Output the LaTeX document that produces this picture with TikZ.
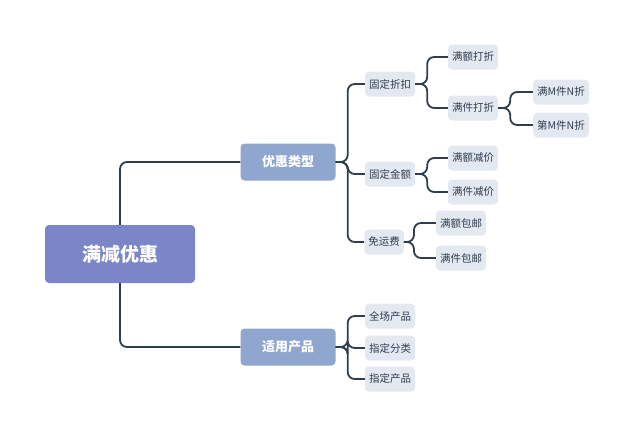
\documentclass[tikz,border=0pt]{standalone}
\usepackage{fontspec}
\setmainfont{Noto Sans CJK SC}
\usetikzlibrary{positioning}
\definecolor{rootc}{HTML}{7B86C8}
\definecolor{mainc}{HTML}{8FA6CF}
\definecolor{subc}{HTML}{E4E9F1}
\definecolor{linec}{HTML}{2F3D4F}
\tikzset{
  rootbox/.style={fill=rootc, text=white, rounded corners=4pt, minimum width=150pt, minimum height=58pt, font=\fontsize{19}{19}\selectfont\bfseries},
  mainbox/.style={fill=mainc, text=white, rounded corners=4pt, minimum width=95pt, minimum height=37pt, font=\fontsize{13}{13}\selectfont\bfseries},
  subbox/.style={fill=subc, text=linec, rounded corners=4pt, minimum height=25pt, inner xsep=4pt, font=\fontsize{10.5}{10.5}\selectfont},
  link/.style={draw=linec, line width=1.8pt, rounded corners=7pt}
}
\begin{document}
\begin{tikzpicture}[x=1pt,y=-1pt]
  \useasboundingbox (0,0) rectangle (640,437);
  % root and main branches
  \node[rootbox] (root) at (120,254) {满减优惠};
  \node[mainbox] (type) at (288,162) {优惠类型};
  \node[mainbox] (prod) at (288,347) {适用产品};
  % discount types
  \node[subbox] (rate) at (390,84) {固定折扣};
  \node[subbox] (cash) at (390,174) {固定金额};
  \node[subbox] (ship) at (384,242) {免运费};
  \node[subbox] (rateA) at (473,57) {满额打折};
  \node[subbox] (rateB) at (473,108) {满件打折};
  \node[subbox] (rateB1) at (561,92) {满M件N折};
  \node[subbox] (rateB2) at (561,125) {第M件N折};
  \node[subbox] (cashA) at (473,158) {满额减价};
  \node[subbox] (cashB) at (473,192) {满件减价};
  \node[subbox] (shipA) at (461,223) {满额包邮};
  \node[subbox] (shipB) at (461,258) {满件包邮};
  % products
  \node[subbox] (all) at (390,316) {全场产品};
  \node[subbox] (cat) at (390,348) {指定分类};
  \node[subbox] (item) at (390,379) {指定产品};

  \draw[link] (root.north) |- (type.west);
  \draw[link] (root.south) |- (prod.west);
  \foreach \c in {rate,cash,ship}
    \draw[link] (type.east) -- ++(12,0) |- (\c.west);
  \foreach \c in {all,cat,item}
    \draw[link] (prod.east) -- ++(12,0) |- (\c.west);
  \foreach \c in {rateA,rateB}
    \draw[link] (rate.east) -- ++(12,0) |- (\c.west);
  \foreach \c in {cashA,cashB}
    \draw[link] (cash.east) -- ++(12,0) |- (\c.west);
  \foreach \c in {shipA,shipB}
    \draw[link] (ship.east) -- ++(10,0) |- (\c.west);
  \foreach \c in {rateB1,rateB2}
    \draw[link] (rateB.east) -- ++(12,0) |- (\c.west);
\end{tikzpicture}
\end{document}
